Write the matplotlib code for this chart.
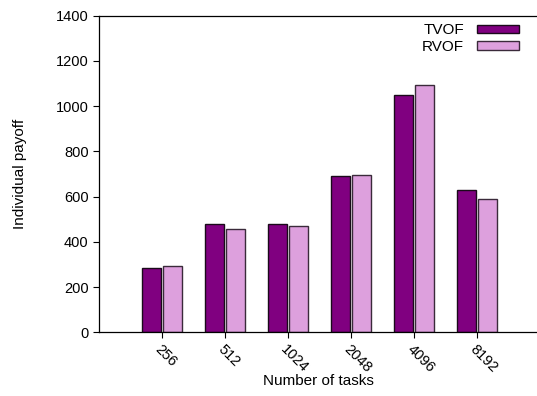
import matplotlib
matplotlib.use("Agg")
import matplotlib.pyplot as plt
import numpy as np

plt.rcParams['font.family'] = ['Liberation Sans', 'DejaVu Sans']

tasks = ["256", "512", "1024", "2048", "4096", "8192"]
tvof = [283, 478, 480, 693, 1051, 629]
rvof = [295, 458, 471, 696, 1092, 591]

fig = plt.figure(figsize=(5.37, 3.96), dpi=100)
ax = fig.add_axes([0.1844, 0.1609, 0.8212, 0.7995])

x = np.arange(1, len(tasks) + 1)
w = 0.30
ax.bar(x - 0.163, tvof, w, color='#800080', edgecolor='#1a0a1a', linewidth=1.0, label='TVOF')
ax.bar(x + 0.163, rvof, w, color='#DDA0DD', edgecolor='#3a2a3a', linewidth=1.0, label='RVOF')

ax.set_xlim(0, 7)
ax.set_ylim(0, 1400)
ax.set_yticks(range(0, 1401, 200))
ax.set_xticks(x)
ax.set_xticklabels(tasks, rotation=-45, ha='left', va='top', rotation_mode='anchor')
ax.tick_params(axis='both', direction='out', length=4, width=0.8, labelsize=10.5)
ax.tick_params(axis='x', pad=3)
ax.spines['right'].set_visible(False)
for s in ('left', 'top', 'bottom'):
    ax.spines[s].set_linewidth(0.9)

ax.set_xlabel("Number of tasks", fontsize=11)
ax.set_ylabel("Individual payoff", fontsize=11)
ax.xaxis.set_label_coords(0.498, -0.132)
ax.yaxis.set_label_coords(-0.164, 0.5)

leg = ax.legend(loc='upper right', bbox_to_anchor=(0.952, 0.9755), frameon=False,
                markerfirst=False, fontsize=11, handlelength=2.75, handleheight=0.52,
                handletextpad=0.85, labelspacing=0.15, borderpad=0, borderaxespad=0)
for t in leg.get_texts():
    t.set_ha('right')

fig.savefig("out.png", dpi=100)
